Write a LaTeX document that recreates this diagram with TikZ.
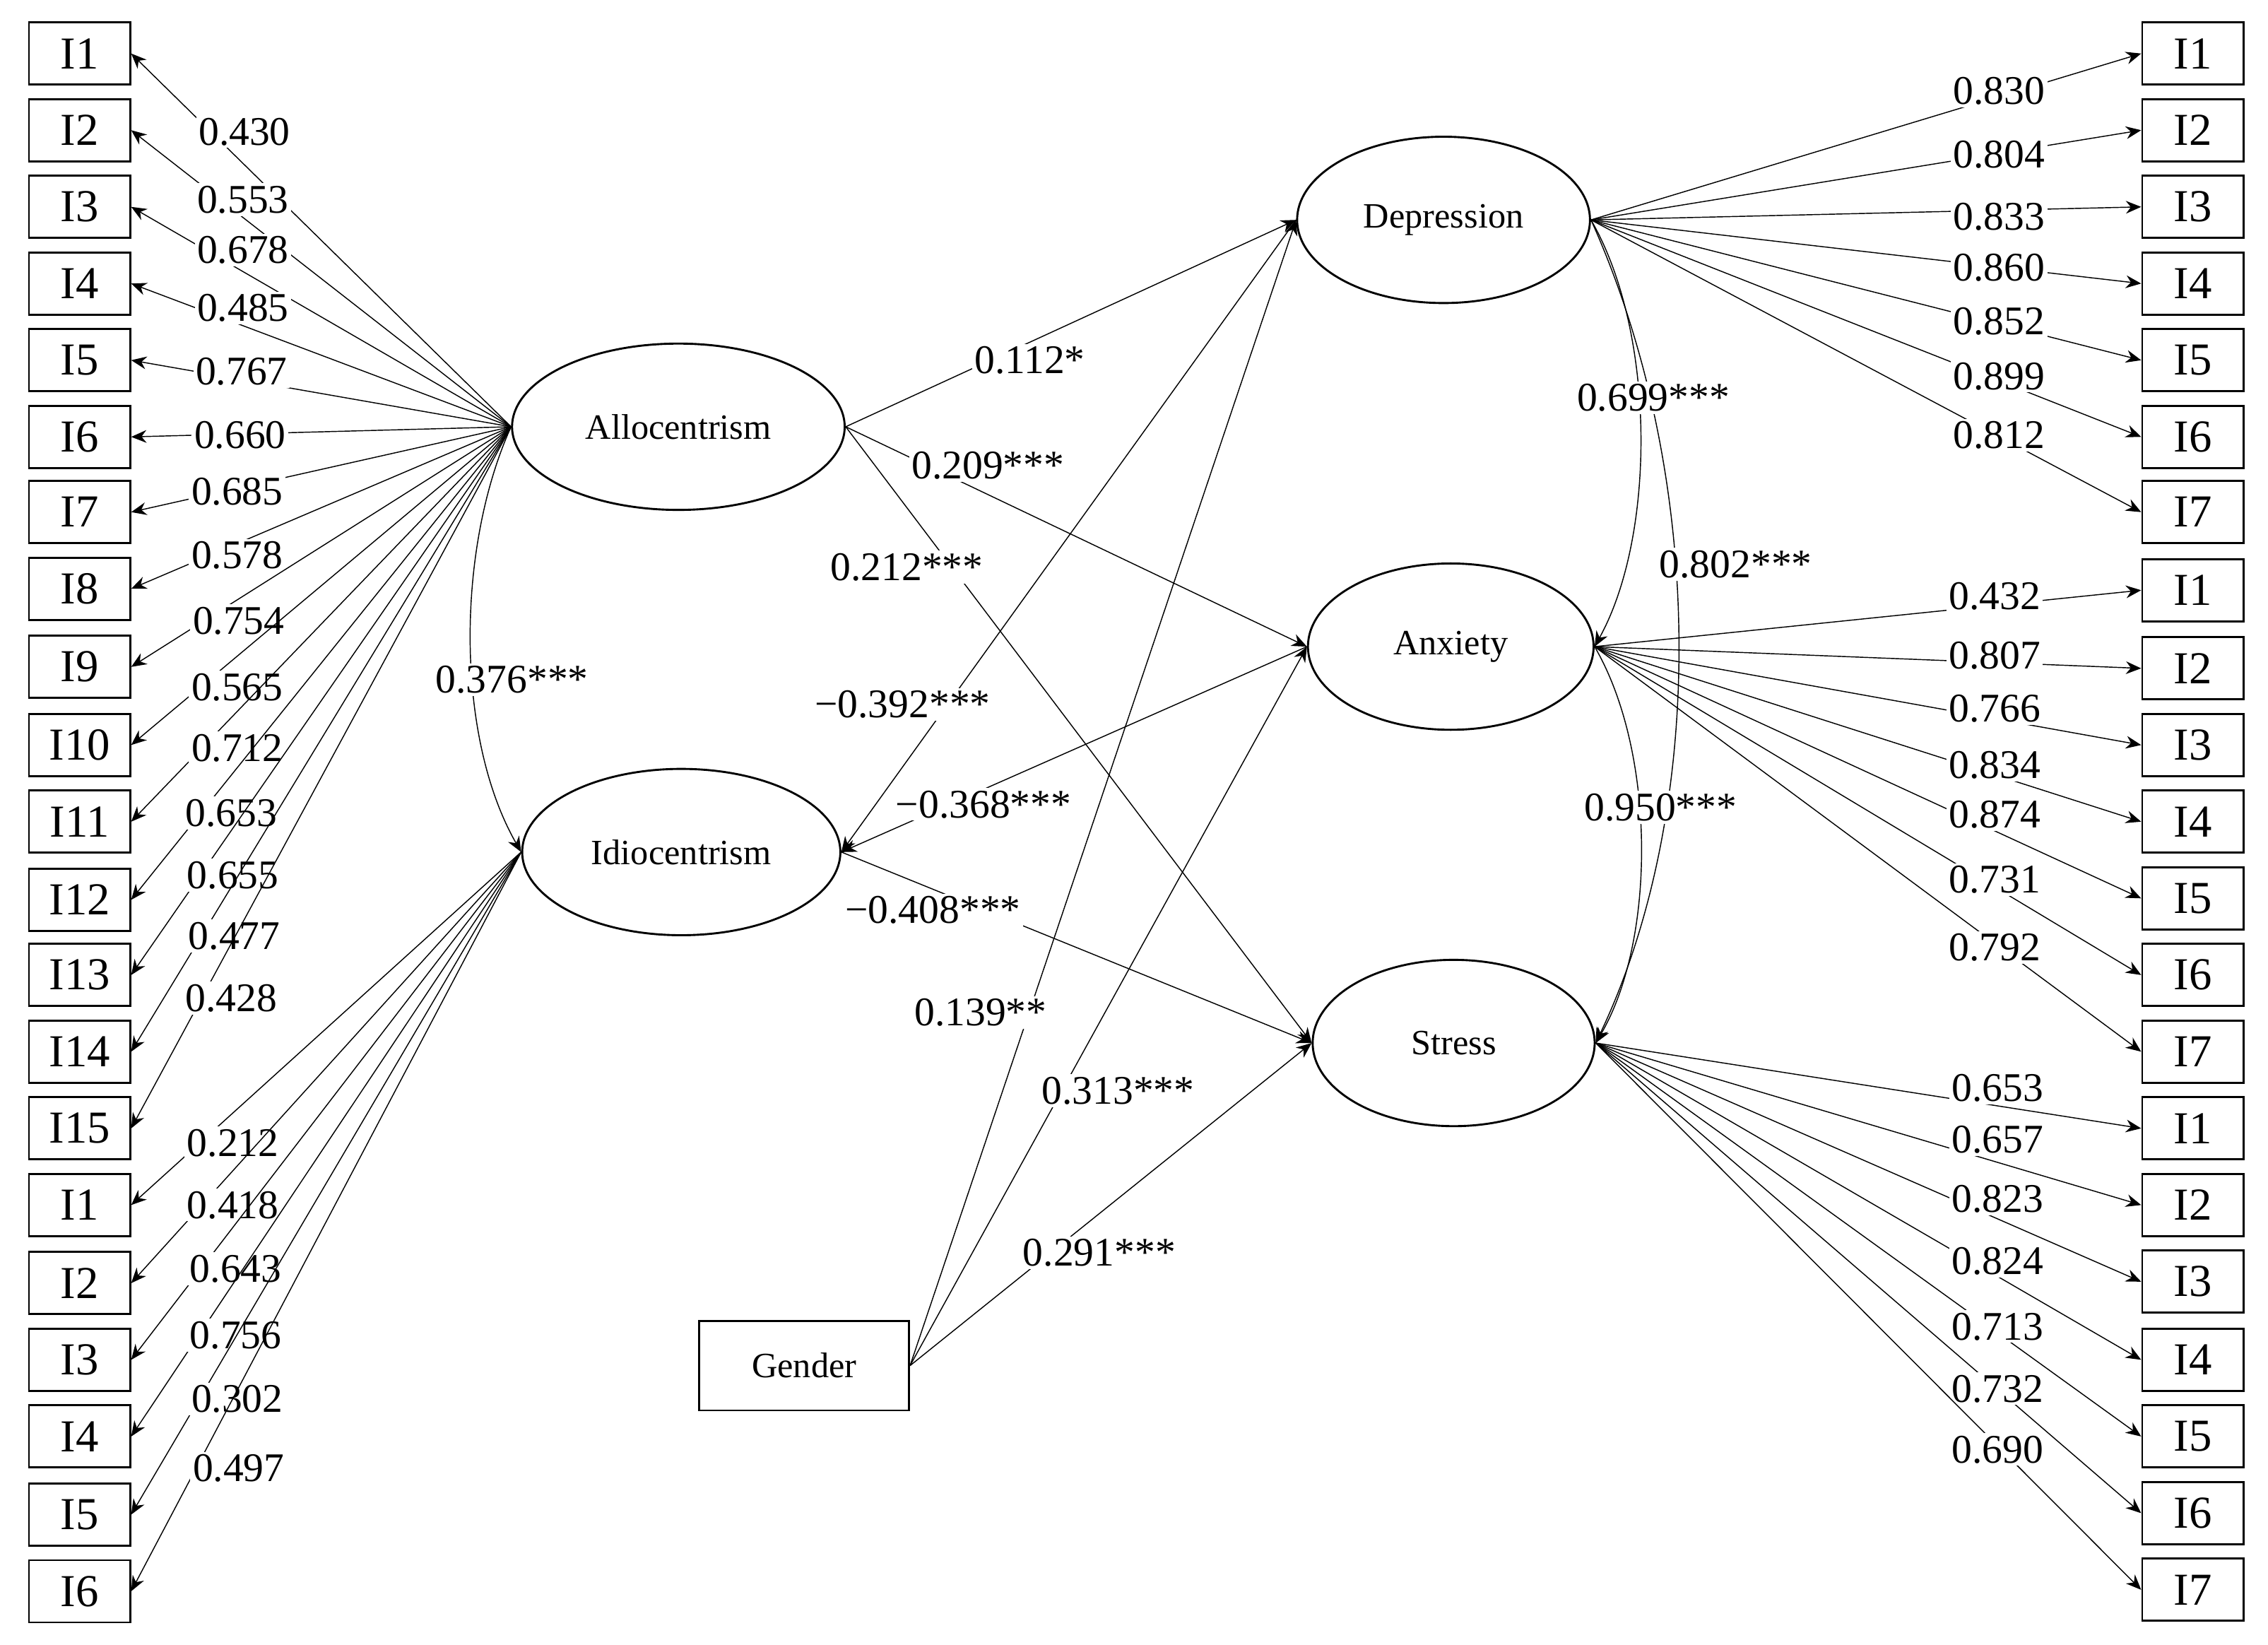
\documentclass[tikz,border=0pt]{standalone}
\usepackage{fontspec}
\setmainfont{Liberation Serif}
\usetikzlibrary{arrows.meta,shapes.geometric}
\tikzset{
  item/.style={draw,thick,minimum width=1.4cm,minimum height=0.86cm,inner sep=0pt,font=\fontsize{18}{18}\selectfont},
  latent/.style={draw,thick,ellipse,minimum width=4.4cm,minimum height=2.3cm,font=\fontsize{14}{14}\selectfont},
  coef/.style={fill=white,inner sep=1pt,font=\fontsize{16}{16}\selectfont},
  path/.style={-{Stealth[length=6pt,width=5pt]},thin}
}
\begin{document}
\begin{tikzpicture}[x=0.02cm,y=-0.02cm]
\useasboundingbox (0,0) rectangle (1568,1137);
% latent variables
\node[latent,minimum width=4.6cm] (allo) at (469,295) {Allocentrism};
\node[latent,minimum width=4.4cm] (idio) at (471,589) {Idiocentrism};
\node[latent,minimum width=4.05cm] (dep) at (998,152) {Depression};
\node[latent,minimum width=3.95cm] (anx) at (1003,447) {Anxiety};
\node[latent,minimum width=3.9cm] (str) at (1005,721) {Stress};
\node[draw,thick,minimum width=2.9cm,minimum height=1.24cm,font=\fontsize{14}{14}\selectfont] (gen) at (556,944) {Gender};
% left items
\foreach \i/\y/\lab/\lx/\ly in {1/37/0.430/169/91,2/90/0.553/168/138,3/143/0.678/168/173,4/196/0.485/168/213,5/249/0.767/167/257,6/302/0.660/166/301,7/354/0.685/164/340,8/407/0.578/164/384,9/461/0.754/165/429,10/515/0.565/164/475,11/568/0.712/164/517,12/622/0.653/160/562,13/674/0.655/161/605,14/727/0.477/162/647,15/780/0.428/160/690}{
  \node[item] (a\i) at (55,\y) {I\i};
  \draw[path] (allo.west) -- (a\i.east);
  \node[coef] (ca\i) at (\lx,\ly) {\lab};
}
\foreach \i/\y/\lab/\lx/\ly in {1/833/0.212/161/790,2/887/0.418/161/833,3/940/0.643/163/877,4/993/0.756/163/923,5/1047/0.302/164/967,6/1100/0.497/165/1015}{
  \node[item] (b\i) at (55,\y) {I\i};
  \draw[path] (idio.west) -- (b\i.east);
  \node[coef] (cb\i) at (\lx,\ly) {\lab};
}
% right items
\foreach \i/\y/\lab/\ly in {1/37/0.830/63,2/90/0.804/107,3/143/0.833/150,4/196/0.860/185,5/249/0.852/222,6/302/0.899/260,7/354/0.812/301}{
  \node[item] (d\i) at (1516,\y) {I\i};
  \draw[path] (dep.east) -- (d\i.west);
  \node[coef] (cd\i) at (1382,\ly) {\lab};
}
\foreach \i/\y/\lab/\ly in {1/408/0.432/412,2/462/0.807/453,3/515/0.766/490,4/568/0.834/529,5/621/0.874/563,6/674/0.731/608,7/727/0.792/655}{
  \node[item] (x\i) at (1516,\y) {I\i};
  \draw[path] (anx.east) -- (x\i.west);
  \node[coef] (cx\i) at (1379,\ly) {\lab};
}
\foreach \i/\y/\lab/\ly in {1/780/0.653/752,2/833/0.657/788,3/886/0.823/829,4/940/0.824/872,5/993/0.713/917,6/1046/0.732/960,7/1099/0.690/1002}{
  \node[item] (s\i) at (1516,\y) {I\i};
  \draw[path] (str.east) -- (s\i.west);
  \node[coef] (cs\i) at (1381,\ly) {\lab};
}
% structural paths
\draw[path] (allo.east) -- (dep.west);
\draw[path] (allo.east) -- (anx.west);
\draw[path] (allo.east) -- (str.west);
\draw[path] (dep.west) -- (idio.east);
\draw[path] (anx.west) -- (idio.east);
\draw[path] (idio.east) -- (str.west);
\draw[path] (gen.east) -- (dep.west);
\draw[path] (gen.east) -- (anx.west);
\draw[path] (gen.east) -- (str.west);
% covariances
\draw[path] (allo.west) .. controls (315,380) and (315,510) .. (idio.west);
\draw[path] (dep.east) .. controls (1145,230) and (1145,370) .. (anx.east);
\draw[path] (dep.east) .. controls (1180,330) and (1180,560) .. (str.east);
\draw[path] (anx.east) .. controls (1145,520) and (1145,650) .. (str.east);
% coefficients
\node[coef] (p1) at (712,249) {0.112*};
\node[coef] (p2) at (683,322) {0.209***};
\node[coef] (p3) at (627,392) {0.212***};
\node[coef] (p4) at (624,487) {−0.392***};
\node[coef] (p5) at (680,556) {−0.368***};
\node[coef] (p6) at (645,629) {−0.408***};
\node[coef] (p7) at (678,700) {0.139**};
\node[coef] (p8) at (773,754) {0.313***};
\node[coef] (p9) at (760,866) {0.291***};
\node[coef] (r1) at (354,470) {0.376***};
\node[coef] (r2) at (1143,275) {0.699***};
\node[coef] (r3) at (1200,390) {0.802***};
\node[coef] (r4) at (1148,558) {0.950***};
\end{tikzpicture}
\end{document}
